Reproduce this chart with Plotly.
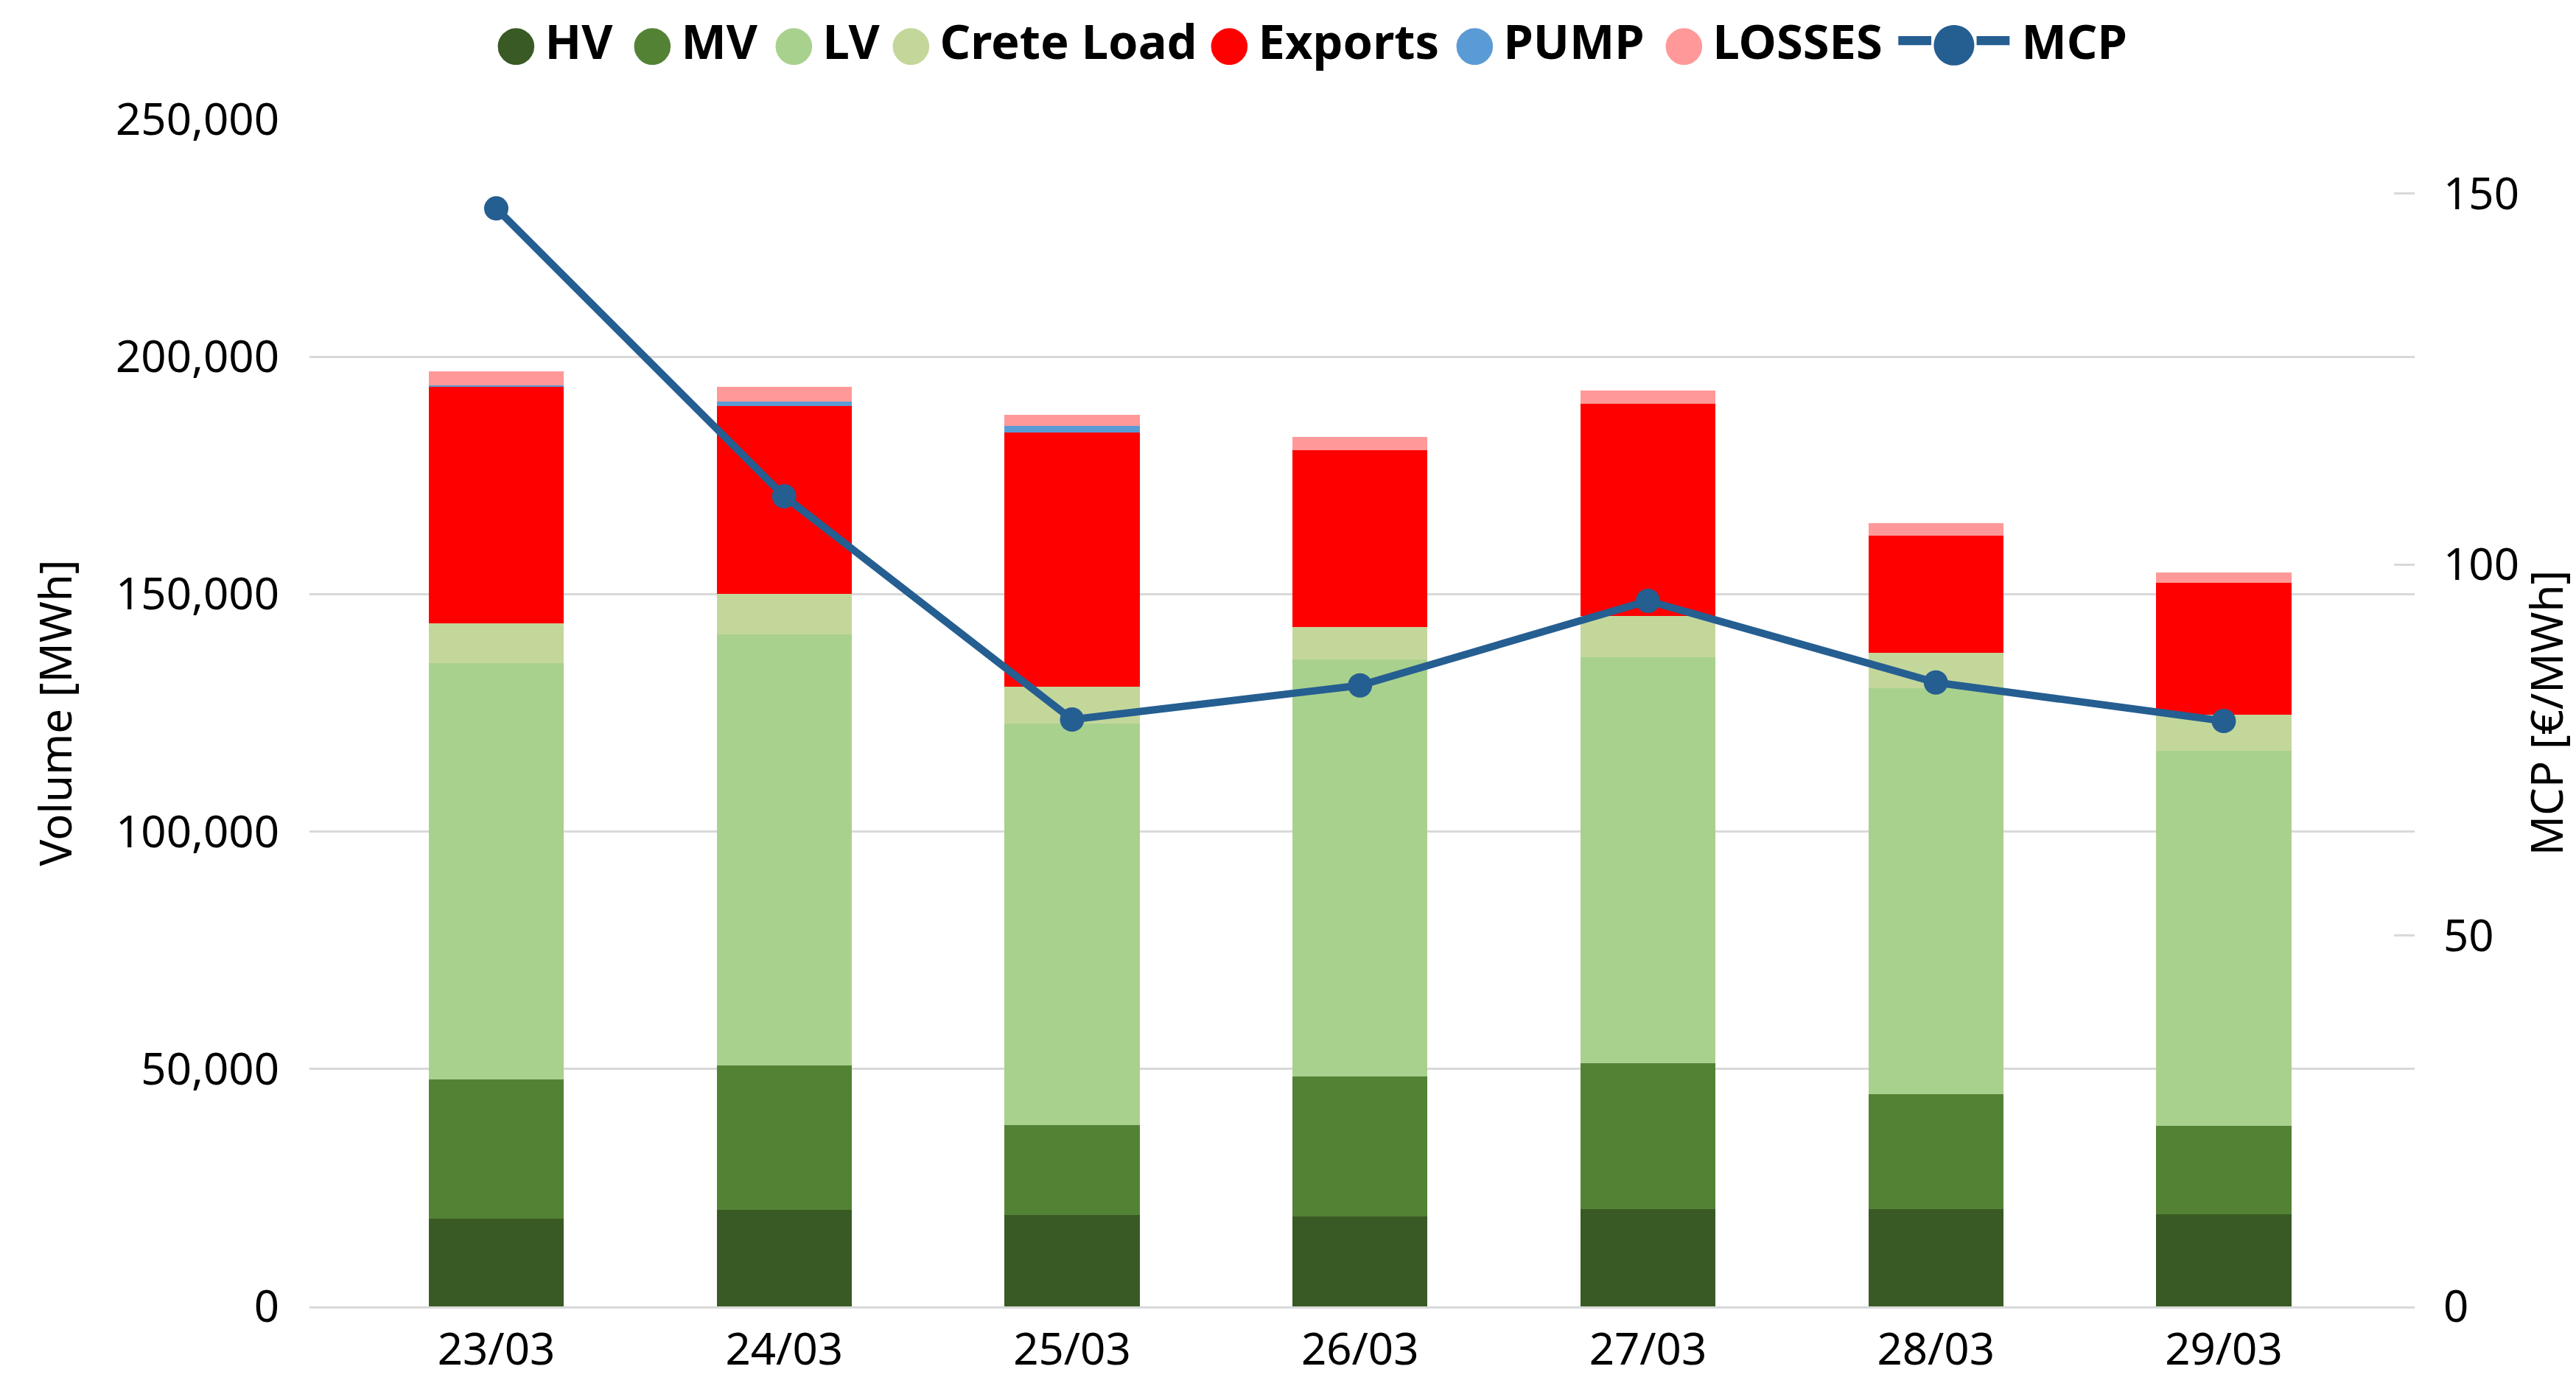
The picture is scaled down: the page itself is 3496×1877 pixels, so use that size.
import plotly.graph_objects as go

# ---- data ----
dates = ["23/03", "24/03", "25/03", "26/03", "27/03", "28/03", "29/03"]
hv = [18460, 20320, 19290, 18980, 20530, 20530, 19440]
mv = [29320, 30410, 18870, 29420, 30660, 24150, 18570]
lv = [87650, 90750, 84600, 87800, 85480, 85520, 78960]
crete_load = [8380, 8530, 7750, 6830, 8690, 7450, 7650]
exports = [49990, 39610, 53520, 37230, 44670, 24620, 27720]
pump = [150, 900, 1400, 0, 0, 0, 0]
losses = [2960, 3080, 2280, 2800, 2800, 2630, 2170]
mcp = [148.0, 109.2, 79.1, 83.7, 95.1, 84.1, 78.9]

series_names = ["HV", "MV", "LV", "Crete Load", "Exports", "PUMP", "LOSSES"]
series_values = [hv, mv, lv, crete_load, exports, pump, losses]

# ---- styles ----
series_colors = ["#3A5A25", "#548235", "#A9D18E", "#C4D79B", "#FF0000", "#5B9BD5", "#FF9999"]
legend_item_widths = [140, 147, 114, 387, 288, 239, 340]
mcp_color = "#255E91"
grid_color = "#D9D9D9"
font_family = "Noto Sans"

fig = go.Figure()

for name, vals, col in zip(series_names, series_values, series_colors):
    fig.add_trace(go.Bar(
        x=dates, y=vals, name=name,
        marker=dict(color=col, line=dict(width=0)),
        showlegend=False, yaxis="y",
    ))

# legend entries (round colour keys like the original)
for name, col, lw in zip(series_names, series_colors, legend_item_widths):
    fig.add_trace(go.Scatter(
        x=[None], y=[None], mode="markers",
        marker=dict(color="rgba(0,0,0,0)", size=2),
        name=f"<span style='font-family:DejaVu Sans;color:{col}'>●</span>\u2009{name}",
        legend="legend", legendwidth=lw, showlegend=True, hoverinfo="skip",
    ))

fig.add_trace(go.Scatter(
    x=dates, y=mcp, name="MCP", mode="lines+markers",
    line=dict(color=mcp_color, width=10),
    marker=dict(color=mcp_color, size=33),
    yaxis="y2", showlegend=False,
))
# legend key for the MCP line (line with a round marker)
fig.add_trace(go.Scatter(
    x=[None], y=[None], mode="markers",
    marker=dict(color="rgba(0,0,0,0)", size=2),
    name=f"<span style='font-family:DejaVu Sans;font-size:72px;color:{mcp_color}'>━●━</span> MCP",
    yaxis="y2", legend="legend2", showlegend=True, hoverinfo="skip",
))

# the page body adds an 8 px offset, so the figure is drawn 8 px smaller
fig.update_layout(
    width=3488, height=1869,
    margin=dict(l=412, r=219, t=154, b=104, autoexpand=False),
    barmode="stack", bargap=0.531,
    plot_bgcolor="white", paper_bgcolor="white",
    font=dict(family=font_family, size=60, color="#000000"),
    xaxis=dict(
        type="category", range=[-0.6487, 6.663], automargin=False,
        showline=True, linecolor=grid_color, linewidth=3,
        ticks="", showgrid=False, ticklabelstandoff=4,
        tickfont=dict(size=60),
    ),
    yaxis=dict(
        range=[0, 250000], dtick=50000, tickformat=",d", automargin=False,
        showgrid=True, gridcolor=grid_color, gridwidth=3,
        zeroline=False, ticks="", ticklabelstandoff=40,
        tickfont=dict(size=60),
        title=dict(text="Volume [MWh]", standoff=40, font=dict(size=60)),
    ),
    yaxis2=dict(
        overlaying="y", side="right", range=[0, 160], automargin=False,
        tickvals=[0, 50, 100, 150], showgrid=False, zeroline=False,
        ticks="inside", ticklen=28, tickwidth=3, tickcolor=grid_color,
        ticklabelstandoff=38, tickfont=dict(size=60),
        title=dict(text="MCP [€/MWh]", standoff=14, font=dict(size=60)),
    ),
    legend=dict(
        orientation="h", x=0.0742, xanchor="left", y=1.0665, yanchor="middle",
        font=dict(size=65, weight="bold", family=font_family),
        itemwidth=30, bgcolor="rgba(0,0,0,0)", itemclick=False,
        traceorder="normal",
    ),
    legend2=dict(
        orientation="h", x=0.741, xanchor="left", y=1.0665, yanchor="middle",
        font=dict(size=65, weight="bold", family=font_family),
        itemwidth=30, bgcolor="rgba(0,0,0,0)", itemclick=False,
    ),
)

fig.write_html("out.html")
